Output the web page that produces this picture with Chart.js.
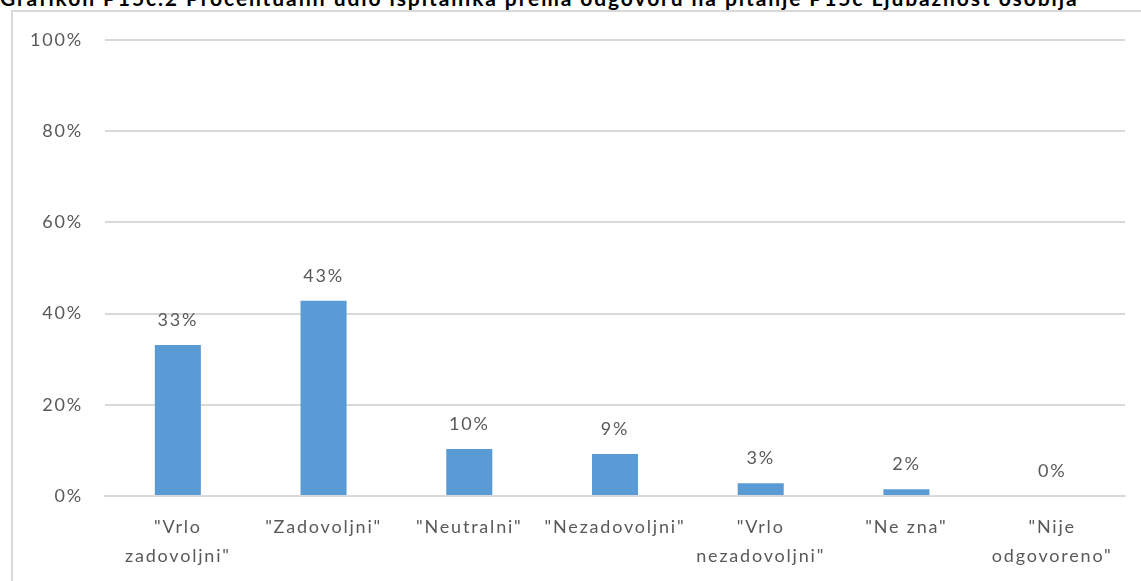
<!DOCTYPE html>
<html>
<head>
<meta charset="utf-8">
<script src="https://cdn.jsdelivr.net/npm/chart.js@4.4.0/dist/chart.umd.min.js"></script>
<style>
body { margin:0; background:#fff; width:1141px; height:581px; overflow:hidden; position:relative; font-family:Lato, sans-serif; }
#title { position:absolute; left:0; top:-13px; font-weight:bold; font-size:21px; line-height:21px; letter-spacing:1.9px; color:#000; white-space:nowrap; }
#frame { position:absolute; left:11px; top:10px; width:1200px; height:700px; border:2px solid #d9d9d9; }
#wrap { position:absolute; left:0; top:0; width:1141px; height:581px; }
</style>
</head>
<body>
<div id="title">Grafikon P15c.2 Procentualni udio ispitanika prema odgovoru na pitanje P15c Ljubaznost osoblja</div>
<div id="frame"></div>
<div id="wrap"><canvas id="myChart"></canvas></div>
<script>
// categories and values
var labels = [
  ['"Vrlo', 'zadovoljni"'],
  '"Zadovoljni"',
  '"Neutralni"',
  '"Nezadovoljni"',
  ['"Vrlo', 'nezadovoljni"'],
  '"Ne zna"',
  ['"Nije', 'odgovoreno"']
];
var values = [33.1, 42.8, 10.3, 9.2, 2.8, 1.5, 0];
var valueText = ['33%', '43%', '10%', '9%', '3%', '2%', '0%'];
var yTicks = [0, 20, 40, 60, 80, 100];

// the reference font is spaced out a bit, canvas can do that too
const spacing = {
  id: 'spacing',
  beforeUpdate(chart) { chart.ctx.letterSpacing = '1.8px'; },
  beforeDraw(chart) { chart.ctx.letterSpacing = '1.8px'; }
};

const barLabels = {
  id: 'barLabels',
  afterDatasetsDraw(chart) {
    const ctx = chart.ctx;
    const meta = chart.getDatasetMeta(0);
    ctx.save();
    ctx.font = '18px Lato';
    ctx.fillStyle = '#595959';
    ctx.textAlign = 'center';
    ctx.textBaseline = 'middle';
    meta.data.forEach(function(bar, i) {
      ctx.fillText(valueText[i], bar.x, bar.y - 25);
    });
    ctx.restore();
  }
};

const data = {
  labels: labels,
  datasets: [{
    data: values,
    backgroundColor: '#5b9bd5',
    borderWidth: 0,
    categoryPercentage: 1,
    barPercentage: 0.316
  }]
};

const config = {
  type: 'bar',
  data: data,
  options: {
    responsive: true,
    maintainAspectRatio: false,
    animation: false,
    layout: { padding: { top: 40, right: 16, left: 0, bottom: 0 } },
    plugins: { legend: { display: false }, tooltip: { enabled: false } },
    scales: {
      x: {
        grid: { display: false, drawTicks: false },
        border: { color: '#d9d9d9', width: 2 },
        ticks: { color: '#595959', font: { family: 'Lato', size: 18, lineHeight: 1.6 }, padding: 17, maxRotation: 0, autoSkip: false },
        afterFit: function(scale) { scale.height = 85; }
      },
      y: {
        min: 0,
        max: 100,
        grid: { color: '#d9d9d9', lineWidth: 2, drawTicks: false },
        border: { display: false },
        afterBuildTicks: function(scale) { scale.ticks = yTicks.map(function(v) { return { value: v }; }); },
        ticks: {
          color: '#595959',
          font: { family: 'Lato', size: 18 },
          padding: 22,
          callback: function(v) { return v + '%'; }
        },
        afterFit: function(scale) { scale.width = 105; }
      }
    }
  },
  plugins: [spacing, barLabels]
};

const myChart = new Chart(document.getElementById('myChart'), config);
</script>
</body>
</html>
